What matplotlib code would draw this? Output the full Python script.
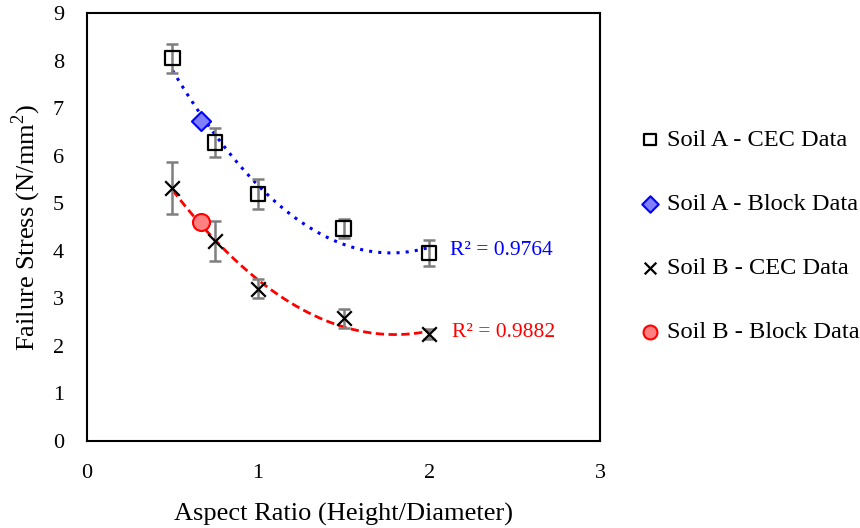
import numpy as np
import matplotlib.pyplot as plt

plt.rcParams['font.family'] = ['Liberation Serif', 'DejaVu Serif']
plt.rcParams['mathtext.fontset'] = 'custom'
plt.rcParams['mathtext.rm'] = 'Liberation Serif'

# Soil A
a_x = [0.5, 0.75, 1.0, 1.5, 2.0]
a_y = [8.05, 6.28, 5.2, 4.47, 3.95]
a_err = [0.3, 0.3, 0.32, 0.2, 0.28]
a_block_x = [0.667]
a_block_y = [6.74]

# Soil B
b_x = [0.5, 0.75, 1.0, 1.5, 2.0]
b_y = [5.32, 4.2, 3.2, 2.58, 2.25]
b_err = [0.55, 0.42, 0.2, 0.2, 0.1]
b_block_x = [0.667]
b_block_y = [4.6]

r2_labels = ['R² = 0.9764', 'R² = 0.9882']

fig = plt.figure(figsize=(8.6, 5.28), dpi=100)
ax = fig.add_axes([0.101, 0.165, 0.597, 0.81])

# trendlines (2nd order polynomial)
xs = np.linspace(0.5, 2.0, 200)
pa = np.polyfit(a_x + a_block_x, a_y + a_block_y, 2)
pb = np.polyfit(b_x + b_block_x, b_y + b_block_y, 2)
ax.plot(xs, np.polyval(pa, xs), color='#0000ff', linestyle=(0, (1, 2)), lw=2.2, zorder=2)
ax.plot(xs, np.polyval(pb, xs), color='#ff0000', linestyle=(0, (3, 1.6)), lw=2.0, zorder=2)

ax.errorbar(a_x, a_y, yerr=a_err, fmt='none', ecolor='#7f7f7f', elinewidth=1.8, capsize=4.5, capthick=1.8, zorder=3)
ax.errorbar(b_x, b_y, yerr=b_err, fmt='none', ecolor='#7f7f7f', elinewidth=1.8, capsize=4.5, capthick=1.8, zorder=3)

ax.scatter(a_x, a_y, marker='s', s=105, facecolor='none', edgecolor='black', linewidth=1.6, zorder=4, label='Soil A - CEC Data')
ax.scatter(a_block_x, a_block_y, marker='D', s=95, facecolor='#7f7fff', edgecolor='#0000ff', linewidth=1.5, zorder=4, label='Soil A - Block Data')
ax.scatter(b_x, b_y, marker='x', s=110, color='black', linewidth=1.6, zorder=4, label='Soil B - CEC Data')
ax.scatter(b_block_x, b_block_y, marker='o', s=150, facecolor='#ff8080', edgecolor='#ff0000', linewidth=1.5, zorder=4, label='Soil B - Block Data')

ax.text(2.12, 4.0, r2_labels[0], color='#0000ff', fontsize=15.5, va='center')
ax.text(2.135, 2.28, r2_labels[1], color='#ff0000', fontsize=15.5, va='center')

ax.set_xlim(0, 3)
ax.set_ylim(0, 9)
ax.set_xticks([0, 1, 2, 3])
ax.set_yticks(range(10))
ax.tick_params(axis='x', length=0, labelsize=16, pad=17)
ax.tick_params(axis='y', length=0, labelsize=16, pad=16.5)
for s in ax.spines.values():
    s.set_linewidth(1.5)
ax.set_xlabel('Aspect Ratio (Height/Diameter)', fontsize=19, labelpad=14)
ax.set_ylabel(r'Failure Stress (N/mm$^\mathrm{2}$)', fontsize=19, labelpad=7)

leg = fig.legend(loc='center left', bbox_to_anchor=(0.746, 0.553), frameon=False, fontsize=17.6,
                 handletextpad=0.33, labelspacing=1.72, handlelength=0.7, borderpad=0, borderaxespad=0)
for h, sz in zip(leg.legend_handles, [70, 70, 70, 100]):
    h.set_sizes([sz])

fig.savefig('out.png', dpi=100)
